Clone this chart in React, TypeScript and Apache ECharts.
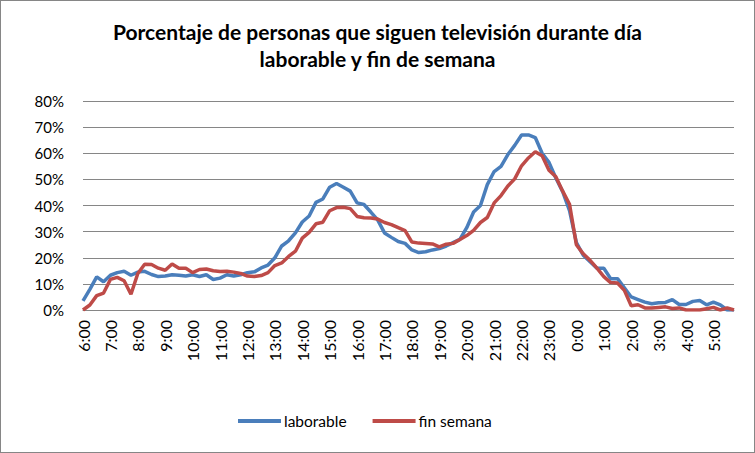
import React, { useEffect, useRef } from "react";
import * as echarts from "echarts";

// 15-minute slots from 6:00 to 5:45 of the next day
const hours = [6, 7, 8, 9, 10, 11, 12, 13, 14, 15, 16, 17, 18, 19, 20, 21, 22, 23, 0, 1, 2, 3, 4, 5];
const minutes = ["00", "15", "30", "45"];
const categories: string[] = hours.flatMap((h) => minutes.map((m) => `${h}:${m}`));

const laborable = [
    3.5, 7.9, 12.7, 10.8, 13.3, 14.3, 14.8, 13.3, 14.5, 14.8, 13.6, 12.8,
    13.0, 13.5, 13.3, 13.0, 13.5, 12.8, 13.5, 11.7, 12.2, 13.5, 13.0, 13.5,
    14.3, 14.6, 16.1, 17.2, 20.0, 24.5, 26.5, 29.5, 33.7, 36.0, 41.2, 42.5,
    47.0, 48.4, 47.0, 45.5, 41.0, 40.4, 37.5, 34.5, 29.5, 27.8, 26.2, 25.5,
    23.0, 22.0, 22.3, 23.0, 23.5, 24.5, 25.8, 27.0, 31.5, 37.5, 40.0, 48.0,
    53.0, 55.0, 59.5, 63.0, 67.0, 67.0, 66.0, 60.0, 56.5, 50.5, 45.3, 38.0,
    25.8, 21.0, 18.5, 16.0, 16.0, 12.0, 12.0, 8.5, 5.0, 4.0, 3.0, 2.4,
    2.8, 2.9, 4.0, 2.1, 2.1, 3.3, 3.6, 2.0, 3.0, 2.0, 0.0, 0.0,
];

const finSemana = [
    0.0, 1.9, 5.5, 6.5, 11.7, 12.5, 11.2, 6.0, 14.0, 17.5, 17.4, 16.0,
    15.2, 17.6, 16.0, 16.0, 14.3, 15.5, 15.7, 15.0, 14.7, 14.8, 14.5, 14.0,
    13.0, 12.8, 13.2, 14.3, 17.0, 18.0, 20.5, 22.5, 27.5, 29.7, 33.0, 33.6,
    38.0, 39.2, 39.3, 38.8, 35.8, 35.3, 35.2, 34.8, 33.5, 32.7, 31.5, 30.4,
    26.0, 25.6, 25.5, 25.3, 24.2, 25.2, 25.5, 27.0, 28.5, 30.5, 33.5, 35.4,
    41.0, 43.8, 47.5, 50.2, 55.2, 58.2, 60.6, 59.0, 53.5, 51.0, 45.5, 40.5,
    25.0, 21.5, 19.0, 16.0, 12.8, 10.5, 10.3, 7.5, 1.6, 2.0, 0.8, 0.8,
    1.0, 1.2, 0.6, 0.8, 0.0, 0.0, 0.0, 0.5, 1.0, 0.0, 0.8, 0.0,
];

const FONT = "Lato, 'Open Sans', sans-serif";

export default function App() {
    const chartRef = useRef<HTMLDivElement>(null);

    useEffect(() => {
        if (chartRef.current === null) return;
        const chart = echarts.init(chartRef.current, undefined, { renderer: "svg" });

        const option: echarts.EChartsOption = {
            animation: false,
            backgroundColor: "#ffffff",
            color: ["#4a7ebb", "#be4b48"],
            title: {
                text: "Porcentaje de personas que siguen televisión durante día\nlaborable y fin de semana",
                left: "center",
                top: 12,
                textStyle: {
                    fontFamily: FONT,
                    fontSize: 21,
                    fontWeight: "bold",
                    color: "#000",
                    lineHeight: 27,
                },
            },
            legend: {
                bottom: 18,
                left: 232,
                icon: "rect",
                itemWidth: 43,
                itemHeight: 4,
                itemGap: 26,
                textStyle: { fontFamily: FONT, fontSize: 15.5, color: "#000", padding: [0, 0, 0, -2] },
                data: ["laborable", "fin semana"],
            },
            grid: {
                left: 82,
                right: 20,
                top: 100,
                bottom: 142,
            },
            xAxis: {
                type: "category",
                data: categories,
                boundaryGap: false,
                axisLine: { lineStyle: { color: "#868686" } },
                axisTick: { show: false },
                axisLabel: {
                    interval: 3,
                    rotate: 90,
                    margin: 10,
                    fontFamily: FONT,
                    fontSize: 16,
                    color: "#000",
                },
            },
            yAxis: {
                type: "value",
                min: 0,
                max: 80,
                interval: 10,
                axisLine: { show: false },
                axisTick: { show: false },
                axisLabel: {
                    formatter: (v: number) => `${v}%`,
                    margin: 19,
                    fontFamily: FONT,
                    fontSize: 15,
                    color: "#000",
                },
                splitLine: { lineStyle: { color: "#868686" } },
            },
            series: [
                {
                    name: "laborable",
                    type: "line",
                    data: laborable,
                    symbol: "none",
                    lineStyle: { width: 3.5 },
                },
                {
                    name: "fin semana",
                    type: "line",
                    data: finSemana,
                    symbol: "none",
                    lineStyle: { width: 3.5 },
                },
            ],
        };

        chart.setOption(option);
        return () => {
            chart.dispose();
        };
    }, []);

    return (
        <div
            style={{
                position: "fixed",
                left: 0,
                top: 0,
                width: 755,
                height: 453,
                boxSizing: "border-box",
                border: "1px solid #868686",
                background: "#fff",
            }}
        >
            <div ref={chartRef} style={{ width: 753, height: 451 }} />
        </div>
    );
}
